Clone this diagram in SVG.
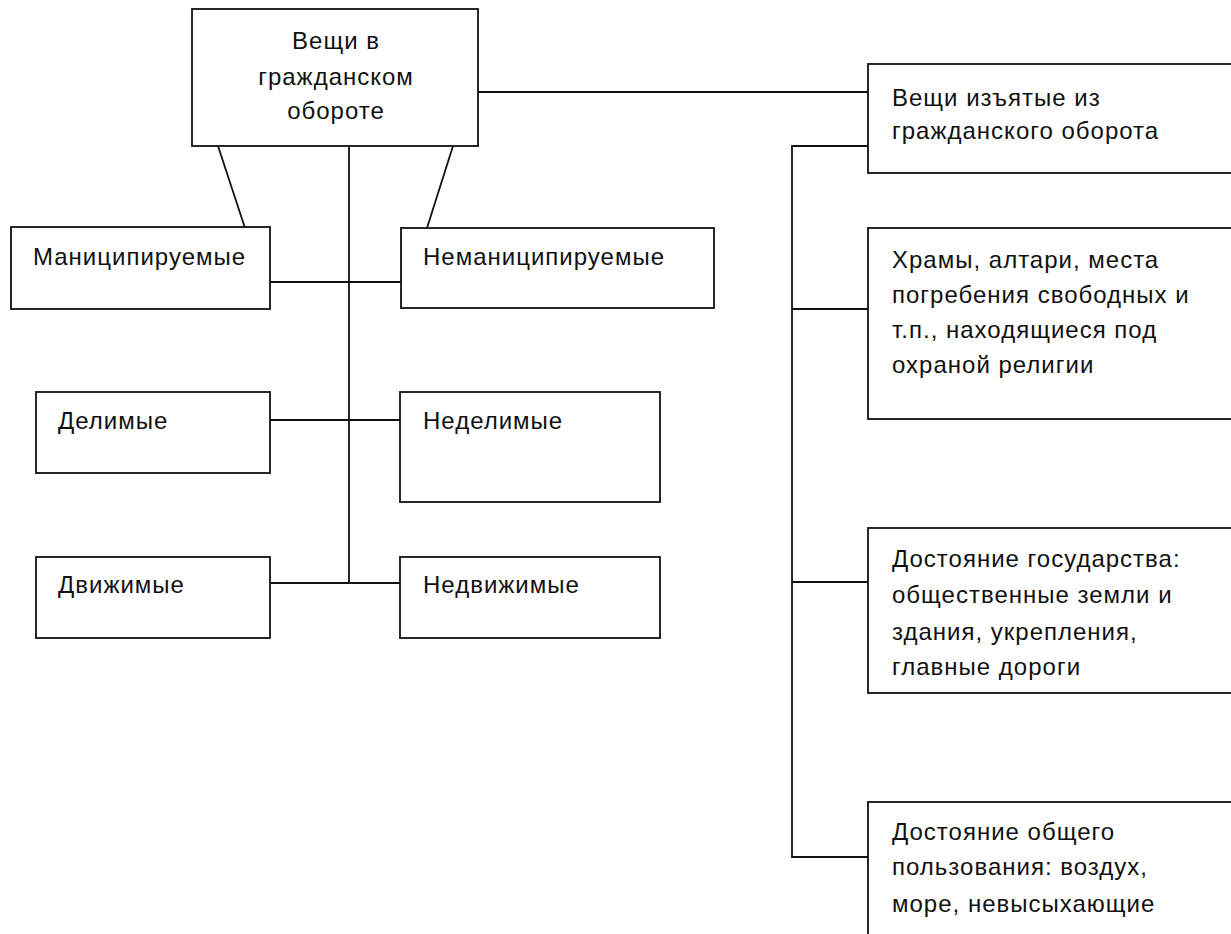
<svg xmlns="http://www.w3.org/2000/svg" width="1231" height="934" viewBox="0 0 1231 934">
<style>
  .box { fill: #fff; stroke: #111; stroke-width: 1.8; }
  .ln { stroke: #111; stroke-width: 1.8; fill: none; }
  .t { font-family: "Liberation Sans", Arial, sans-serif; font-size: 24px; letter-spacing: 1px; fill: #111; }
  .c { text-anchor: middle; }
</style>
<rect x="0" y="0" width="1231" height="934" fill="#fff"/>
<g id="connectors">
  <line class="ln" x1="349" y1="146" x2="349" y2="583"/>
  <line class="ln" x1="218" y1="146" x2="245" y2="228"/>
  <line class="ln" x1="453" y1="146" x2="427" y2="228"/>
  <line class="ln" x1="270" y1="282" x2="401" y2="282"/>
  <line class="ln" x1="270" y1="420" x2="400" y2="420"/>
  <line class="ln" x1="270" y1="583" x2="400" y2="583"/>
  <line class="ln" x1="478" y1="92" x2="868" y2="92"/>
  <polyline class="ln" points="868,146 792,146 792,857 868,857"/>
  <line class="ln" x1="792" y1="309" x2="868" y2="309"/>
  <line class="ln" x1="792" y1="582" x2="868" y2="582"/>
</g>
<g id="n-top">
  <rect class="box" x="192" y="9" width="286" height="137"/>
  <text class="t c" x="336" y="49">Вещи в</text>
  <text class="t c" x="336" y="85">гражданском</text>
  <text class="t c" x="336" y="119">обороте</text>
</g>
<g id="n-mancip">
  <rect class="box" x="11" y="227" width="259" height="82"/>
  <text class="t" x="33" y="265">Маниципируемые</text>
</g>
<g id="n-nemancip">
  <rect class="box" x="401" y="228" width="313" height="80"/>
  <text class="t" x="423" y="265">Неманиципируемые</text>
</g>
<g id="n-delim">
  <rect class="box" x="36" y="392" width="234" height="81"/>
  <text class="t" x="58" y="429">Делимые</text>
</g>
<g id="n-nedelim">
  <rect class="box" x="400" y="392" width="260" height="110"/>
  <text class="t" x="423" y="429">Неделимые</text>
</g>
<g id="n-dvizh">
  <rect class="box" x="36" y="557" width="234" height="81"/>
  <text class="t" x="58" y="593">Движимые</text>
</g>
<g id="n-nedvizh">
  <rect class="box" x="400" y="557" width="260" height="81"/>
  <text class="t" x="423" y="593">Недвижимые</text>
</g>
<g id="n-izyat">
  <rect class="box" x="868" y="64" width="380" height="109"/>
  <text class="t" x="892" y="106">Вещи изъятые из</text>
  <text class="t" x="892" y="139">гражданского оборота</text>
</g>
<g id="n-hramy">
  <rect class="box" x="868" y="228" width="380" height="191"/>
  <text class="t" x="892" y="268">Храмы, алтари, места</text>
  <text class="t" x="892" y="303">погребения свободных и</text>
  <text class="t" x="892" y="338">т.п., находящиеся под</text>
  <text class="t" x="892" y="373">охраной религии</text>
</g>
<g id="n-gos">
  <rect class="box" x="868" y="528" width="380" height="165"/>
  <text class="t" x="892" y="567">Достояние государства:</text>
  <text class="t" x="892" y="603">общественные земли и</text>
  <text class="t" x="892" y="640">здания, укрепления,</text>
  <text class="t" x="892" y="675">главные дороги</text>
</g>
<g id="n-obsh">
  <rect class="box" x="868" y="802" width="380" height="160"/>
  <text class="t" x="892" y="840">Достояние общего</text>
  <text class="t" x="892" y="875">пользования: воздух,</text>
  <text class="t" x="892" y="912">море, невысыхающие</text>
</g>
</svg>
